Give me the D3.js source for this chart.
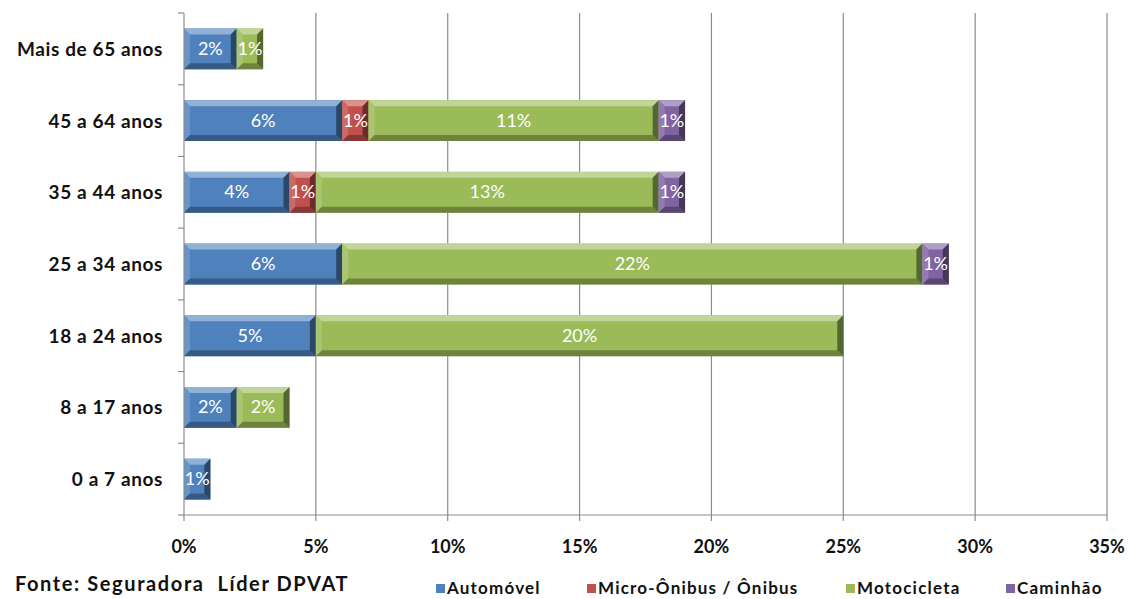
<!DOCTYPE html>
<html>
<head>
<meta charset="utf-8">
<script src="https://cdn.jsdelivr.net/npm/d3@7"></script>
<style>
  body { margin: 0; background: #fff; }
  text { font-family: Lato, "Open Sans", sans-serif; white-space: pre; }
</style>
</head>
<body>
<svg id="chart" width="1130" height="599"></svg>
<script>
// Data
var categories = ["Mais de 65 anos", "45 a 64 anos", "35 a 44 anos", "25 a 34 anos", "18 a 24 anos", "8 a 17 anos", "0 a 7 anos"];
var seriesNames = ["Automóvel", "Micro-Ônibus / Ônibus", "Motocicleta", "Caminhão"];
var automovel = [2, 6, 4, 6, 5, 2, 1];
var microOnibus = [0, 1, 1, 0, 0, 0, 0];
var motocicleta = [1, 11, 13, 22, 20, 2, 0];
var caminhao = [0, 1, 1, 1, 0, 0, 0];
var xTicks = [0, 5, 10, 15, 20, 25, 30, 35];
var colors = ["#4F81BD", "#C0504D", "#9BBB59", "#8064A2"];

var rows = categories.map(function (c, i) {
    return { cat: c, s0: automovel[i], s1: microOnibus[i], s2: motocicleta[i], s3: caminhao[i] };
});
var stack = d3.stack().keys(["s0", "s1", "s2", "s3"])(rows);

var svg = d3.select("#chart");
var plotL = 184, plotR = 1107, plotT = 13, plotB = 515;

var x = d3.scaleLinear().domain([0, 35]).range([plotL, plotR]);
var y = d3.scaleBand().domain(categories).range([plotT, plotB]).paddingInner(0.43).paddingOuter(0.215);

// Gridlines
svg.append("g").selectAll("line")
    .data(xTicks.slice(1))
    .enter().append("line")
    .attr("x1", function (d) { return x(d); })
    .attr("x2", function (d) { return x(d); })
    .attr("y1", plotT).attr("y2", plotB)
    .attr("stroke", "#8c8c8c").attr("stroke-width", 1.2);

// Bars with bevel
var bev = 6;
function shade(c, k) { return k > 0 ? d3.interpolateRgb(c, "#fff")(k) : d3.interpolateRgb(c, "#000")(-k); }

var layers = svg.append("g").selectAll("g.layer")
    .data(stack).enter().append("g").classed("layer", true);

layers.each(function (layer, li) {
    var col = colors[li];
    var g = d3.select(this);
    var segs = layer.filter(function (d) { return d[1] - d[0] > 0; });
    segs.forEach(function (d) {
        var x0 = x(d[0]), x1 = x(d[1]);
        var y0 = y(d.data.cat), y1 = y0 + y.bandwidth();
        var b = Math.min(bev, (x1 - x0) / 3);
        g.append("rect").attr("x", x0).attr("y", y0).attr("width", x1 - x0).attr("height", y1 - y0).attr("fill", col);
        // top bevel
        g.append("polygon").attr("points", [[x0, y0], [x1, y0], [x1 - b, y0 + b], [x0 + b, y0 + b]].join(" ")).attr("fill", shade(col, 0.38));
        // left bevel
        g.append("polygon").attr("points", [[x0, y0], [x0 + b, y0 + b], [x0 + b, y1 - b], [x0, y1]].join(" ")).attr("fill", shade(col, 0.15));
        // bottom bevel
        g.append("polygon").attr("points", [[x0, y1], [x0 + b, y1 - b], [x1 - b, y1 - b], [x1, y1]].join(" ")).attr("fill", shade(col, -0.3));
        // right bevel
        g.append("polygon").attr("points", [[x1, y0], [x1, y1], [x1 - b, y1 - b], [x1 - b, y0 + b]].join(" ")).attr("fill", shade(col, -0.45));
        g.append("text")
            .attr("x", (x0 + x1) / 2).attr("y", (y0 + y1) / 2 + 6)
            .attr("text-anchor", "middle")
            .attr("fill", "#fff").attr("font-size", 18)
            .text((d[1] - d[0]) + "%");
    });
});

// Y axis
svg.append("line").attr("x1", plotL).attr("x2", plotL).attr("y1", plotT).attr("y2", plotB).attr("stroke", "#8c8c8c").attr("stroke-width", 1.2);
svg.append("g").selectAll("line")
    .data(d3.range(categories.length + 1))
    .enter().append("line")
    .attr("x1", plotL - 6).attr("x2", plotL)
    .attr("y1", function (i) { return plotT + i * (plotB - plotT) / categories.length; })
    .attr("y2", function (i) { return plotT + i * (plotB - plotT) / categories.length; })
    .attr("stroke", "#8c8c8c").attr("stroke-width", 1.2);
svg.append("g").selectAll("text")
    .data(categories).enter().append("text")
    .attr("x", 163).attr("y", function (d) { return y(d) + y.bandwidth() / 2 + 7; })
    .attr("text-anchor", "end").attr("font-weight", "bold").attr("font-size", 19).attr("letter-spacing", 0.6).attr("fill", "#111")
    .text(function (d) { return d; });

// X axis
svg.append("line").attr("x1", plotL).attr("x2", plotR).attr("y1", plotB).attr("y2", plotB).attr("stroke", "#8c8c8c").attr("stroke-width", 1.2);
svg.append("g").selectAll("line")
    .data(xTicks).enter().append("line")
    .attr("x1", function (d) { return x(d); }).attr("x2", function (d) { return x(d); })
    .attr("y1", plotB).attr("y2", plotB + 6)
    .attr("stroke", "#8c8c8c").attr("stroke-width", 1.2);
svg.append("g").selectAll("text")
    .data(xTicks).enter().append("text")
    .attr("x", function (d) { return x(d); }).attr("y", 553)
    .attr("text-anchor", "middle").attr("font-weight", "bold").attr("font-size", 18).attr("fill", "#111")
    .text(function (d) { return d + "%"; });

// Source
svg.append("text").attr("x", 15).attr("y", 591)
    .attr("font-weight", "bold").attr("font-size", 20).attr("letter-spacing", 1.6).attr("fill", "#111")
    .text("Fonte: Seguradora  Líder DPVAT");

// Legend
var legendX = [436, 587, 846, 1006];
var leg = svg.append("g").selectAll("g")
    .data(seriesNames).enter().append("g")
    .attr("transform", function (d, i) { return "translate(" + legendX[i] + ",588)"; });
leg.append("rect").attr("x", 0).attr("y", -4).attr("width", 9).attr("height", 9)
    .attr("fill", function (d, i) { return colors[i]; });
leg.append("text").attr("x", 11).attr("y", 6)
    .attr("font-weight", "bold").attr("font-size", 17).attr("letter-spacing", 1.2).attr("fill", "#111")
    .text(function (d) { return d; });
</script>
</body>
</html>
